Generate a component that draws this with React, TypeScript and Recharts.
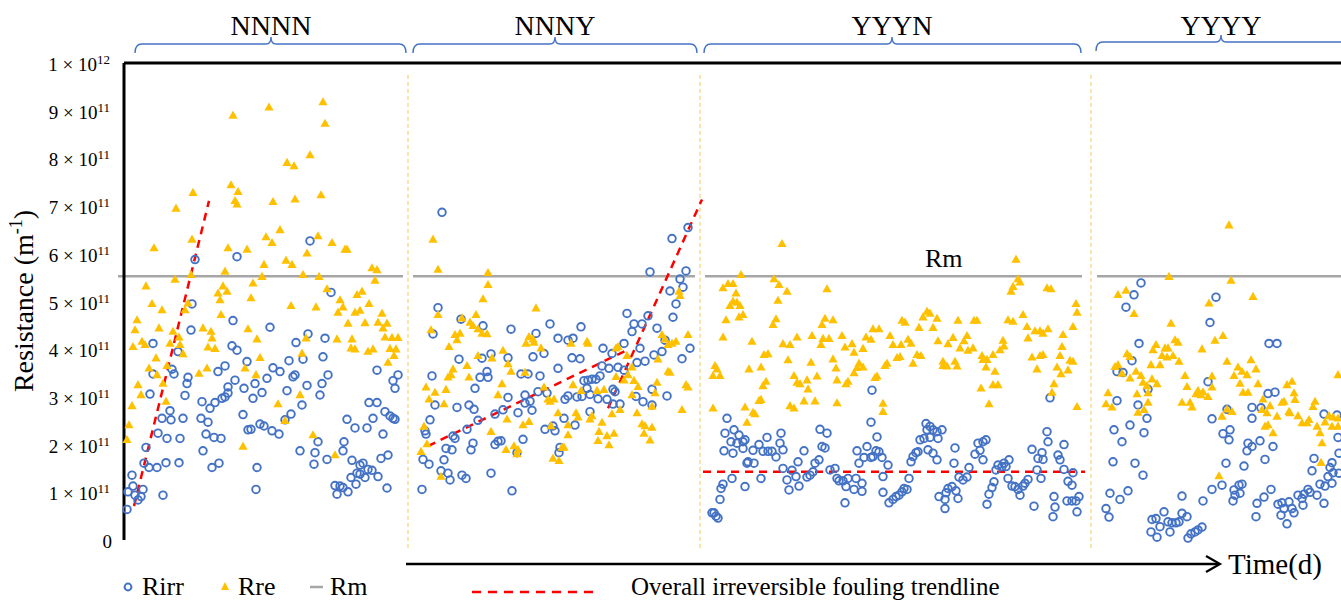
import { ReferenceLine, Scatter, ScatterChart, XAxis, YAxis } from 'recharts'

// time (d) and resistance in units of 1e11 m-1
const rirrNNNN = [[3,0.64],[8,1.36],[9,1.13],[4,1.01],[11,0.94],[14,0.84],[17,0.91],[19,1.06],[20,1.61],[22,1.94],[25,1.52],[33,1.52],[39,0.94],[42,1.62],[55,1.62],[56,2.13],[43,2.13],[34,2.24],[38,2.55],[47,2.52],[46,2.71],[59,2.55],[61,3.03],[26,3.06],[29,3.48],[50,3.48],[48,3.58],[54,3.95],[63,3.28],[64,3.41],[29,4.12],[67,4.4],[68,4.95],[71,5.88],[78,2.9],[77,2.55],[84,2.47],[86,2.76],[79,1.87],[82,2.22],[90,2.15],[97,2.13],[88,1.52],[95,1.61],[91,2.88],[94,3.53],[101,3.65],[98,2.97],[101,3.0],[104,3.08],[104,3.21],[111,3.35],[108,4.07],[113,3.98],[109,4.6],[113,5.94],[119,2.63],[120,3.18],[123,3.74],[129,2.97],[131,3.28],[138,3.09],[124,2.31],[127,2.32],[136,2.43],[140,2.39],[143,3.39],[149,3.61],[146,4.46],[133,1.52],[132,1.06],[148,2.29],[155,2.22],[156,3.53],[163,3.13],[165,3.76],[167,2.64],[169,3.42],[171,3.46],[172,4.14],[178,2.83],[179,3.79],[183,3.24],[184,4.32],[161,2.52],[176,1.87],[191,1.83],[190,1.59],[194,2.06],[196,3.04],[198,3.28],[199,3.84],[201,4.23],[204,3.46],[186,6.27],[203,1.69],[207,5.19],[211,1.14],[213,0.96],[216,1.13],[219,1.1],[220,2.06],[219,1.87],[224,1.01],[223,2.53],[228,1.67],[231,2.35],[232,1.17],[227,1.31],[233,1.4],[236,1.57],[236,1.38],[239,1.61],[241,1.31],[243,2.35],[244,1.48],[248,1.46],[249,2.55],[245,2.88],[253,2.88],[254,1.33],[257,1.71],[259,2.22],[261,2.69],[263,1.09],[264,1.78],[266,2.6],[269,2.55],[271,2.53],[253,3.56],[269,3.34],[271,3.18],[274,3.46]]
const rreNNNN = [[69,7.28],[52,6.95],[109,8.9],[145,9.07],[199,9.18],[201,8.73],[186,8.07],[163,7.91],[170,7.84],[107,7.44],[114,7.3],[111,7.11],[113,7.04],[149,7.09],[171,7.14],[197,7.23],[156,6.5],[68,6.3],[30,6.12],[104,6.12],[123,6.09],[142,6.35],[148,6.23],[194,6.37],[208,6.23],[221,6.09],[223,6.09],[183,6.01],[162,5.86],[168,5.77],[140,5.77],[101,5.63],[248,5.7],[253,5.66],[51,5.46],[67,5.56],[129,5.38],[138,5.52],[179,5.56],[195,5.52],[251,5.44],[22,5.32],[99,5.32],[103,5.21],[94,5.17],[96,5.03],[127,5.07],[203,5.26],[216,5.03],[233,5.14],[238,5.21],[28,4.95],[38,4.82],[64,4.96],[61,4.82],[97,4.72],[167,4.91],[192,4.88],[219,4.88],[214,4.77],[231,4.77],[236,4.81],[245,4.95],[258,4.75],[13,4.61],[11,4.4],[35,4.44],[49,4.37],[79,4.44],[87,4.37],[224,4.54],[241,4.55],[254,4.56],[263,4.54],[259,4.44],[124,4.42],[55,4.25],[88,4.23],[133,4.21],[9,4.05],[18,4.16],[21,4.09],[46,4.12],[56,4.09],[84,4.04],[91,4.01],[182,4.23],[213,4.21],[228,4.21],[227,4.02],[231,4.0],[244,3.95],[249,4.0],[261,4.25],[268,4.24],[274,4.24],[266,4.01],[272,4.0],[270,3.86],[264,3.72],[32,3.81],[59,3.9],[178,3.91],[136,3.82],[25,3.6],[43,3.65],[83,3.6],[75,3.49],[33,3.46],[39,3.28],[121,3.6],[132,3.46],[14,3.25],[17,3.04],[42,2.9],[8,2.81],[176,3.04],[154,2.85],[161,2.5],[5,2.41],[3,2.1],[189,2.2],[119,1.96],[211,1.78]]
const rirrNNNY = [[318,6.87],[314,4.87],[309,4.32],[337,4.63],[359,4.49],[387,4.42],[367,3.9],[335,3.79],[358,3.81],[412,4.33],[409,3.84],[420,3.91],[426,4.53],[434,4.23],[444,4.19],[449,4.23],[457,4.47],[448,3.82],[456,3.8],[479,4.02],[488,3.91],[500,4.12],[503,4.75],[510,4.53],[508,4.37],[518,4.53],[524,4.7],[516,4.02],[533,4.44],[530,3.88],[526,5.62],[548,6.32],[564,6.55],[562,5.64],[556,5.47],[559,5.3],[546,5.22],[552,4.95],[549,4.67],[541,4.19],[566,4.02],[558,3.8],[538,3.95],[384,3.82],[308,3.44],[363,3.53],[356,3.41],[364,3.41],[351,3.18],[311,2.83],[333,2.78],[345,2.83],[350,2.74],[306,2.52],[301,2.29],[354,2.51],[371,2.64],[379,2.73],[384,2.99],[394,2.67],[401,3.04],[401,2.87],[406,2.91],[408,2.72],[397,3.48],[404,3.48],[416,3.44],[414,3.11],[423,3.08],[434,3.6],[441,2.95],[444,3.02],[453,3.0],[458,3.01],[460,3.34],[464,3.35],[468,3.37],[472,3.37],[476,3.44],[463,3.18],[466,2.69],[466,3.05],[474,2.96],[483,2.95],[478,3.65],[485,3.6],[494,3.62],[500,3.56],[489,3.16],[491,3.11],[496,2.85],[489,2.85],[513,3.72],[521,3.75],[512,3.01],[519,2.9],[528,2.83],[528,3.16],[543,3.02],[302,2.22],[305,1.59],[299,1.69],[322,1.92],[328,1.89],[320,1.68],[317,1.45],[324,1.4],[326,1.26],[298,1.06],[338,1.36],[342,1.29],[329,2.18],[331,2.13],[343,2.32],[349,2.03],[347,1.89],[367,1.4],[371,2.0],[374,2.07],[377,2.08],[388,1.03],[393,1.83],[399,2.11],[421,2.32],[429,2.39],[431,2.29],[440,2.55],[451,2.41],[436,1.94],[435,1.83]]
const rreNNNY = [[309,6.3],[314,5.67],[364,5.6],[364,5.35],[359,5.05],[314,4.72],[412,4.86],[352,4.72],[338,4.65],[346,4.56],[349,4.49],[354,4.42],[358,4.33],[363,4.32],[307,4.4],[331,4.3],[333,4.19],[336,4.33],[325,4.05],[405,4.26],[409,4.21],[402,4.12],[410,4.14],[417,4.02],[447,4.12],[463,4.16],[464,4.12],[354,3.86],[368,3.81],[379,3.97],[494,4.05],[492,4.02],[503,3.86],[538,4.3],[541,4.21],[544,4.09],[548,4.12],[552,4.16],[555,5.21],[556,5.12],[564,4.3],[534,3.79],[329,3.58],[324,3.41],[327,3.46],[343,3.65],[345,3.41],[302,3.2],[311,3.09],[322,3.15],[305,2.95],[320,2.85],[300,2.38],[297,1.85],[303,2.01],[317,1.33],[367,2.27],[374,3.04],[378,3.27],[384,3.69],[387,3.53],[383,2.53],[382,1.89],[390,1.97],[394,1.89],[393,1.8],[399,2.41],[405,2.48],[401,3.51],[420,3.2],[424,2.95],[426,2.9],[430,2.95],[427,2.39],[434,2.66],[444,2.41],[444,2.2],[440,1.94],[438,1.94],[429,1.71],[435,1.66],[449,3.25],[457,3.13],[452,2.66],[454,2.57],[466,2.53],[468,2.6],[478,2.46],[473,3.13],[480,3.15],[474,2.08],[475,2.27],[483,2.18],[490,2.23],[485,1.99],[488,2.64],[496,2.73],[492,3.42],[500,3.35],[504,3.46],[508,3.62],[510,3.34],[514,3.21],[508,3.04],[513,2.66],[518,2.43],[521,2.39],[528,2.36],[520,2.23],[526,2.09],[533,3.3],[531,3.08],[528,2.8],[544,3.53],[546,3.51],[562,3.25],[564,3.2],[558,2.73]]
const rirrYYYN = [[748,3.14],[926,2.98],[603,2.55],[747,2.47],[601,2.24],[610,2.31],[615,2.2],[607,2.06],[613,2.03],[619,2.06],[621,2.1],[600,1.87],[609,1.82],[619,1.92],[624,1.64],[623,1.61],[629,1.88],[630,1.61],[635,2.0],[639,1.86],[643,2.15],[644,1.86],[648,1.86],[652,1.74],[657,2.24],[656,2.03],[659,1.89],[637,1.29],[608,1.29],[621,1.12],[597,1.08],[599,1.17],[596,0.85],[590,0.57],[592,0.5],[594,0.46],[588,0.57],[659,1.5],[663,1.26],[665,1.05],[668,1.46],[672,1.33],[675,1.13],[674,1.64],[680,1.87],[683,1.32],[686,1.36],[689,1.43],[691,1.61],[695,1.68],[698,1.96],[696,2.32],[703,2.24],[701,1.93],[706,1.47],[711,1.5],[713,1.29],[715,1.24],[719,1.24],[722,1.12],[721,0.78],[724,1.29],[730,1.06],[732,1.29],[738,1.19],[738,1.02],[735,1.61],[733,1.87],[740,1.73],[743,1.96],[747,1.73],[749,1.75],[752,1.87],[755,1.85],[758,1.73],[753,2.16],[759,1.33],[764,1.57],[759,1.0],[765,0.78],[769,0.85],[772,0.91],[775,0.94],[778,1.01],[780,1.08],[783,1.06],[785,1.29],[787,1.64],[789,1.75],[792,1.83],[794,1.85],[796,2.1],[800,2.13],[803,2.31],[802,2.44],[806,2.38],[809,2.31],[813,2.27],[818,2.31],[806,2.15],[814,2.13],[804,1.89],[809,1.82],[813,1.68],[815,0.91],[821,0.85],[822,0.99],[824,1.08],[828,1.12],[832,1.03],[834,0.87],[821,0.66],[831,1.93],[830,1.61],[835,1.32],[839,1.26],[843,1.32],[845,1.52],[851,1.8],[854,2.03],[856,1.88],[859,2.06],[862,2.1],[859,1.68],[863,0.75],[865,0.96],[868,1.1],[870,1.22],[872,1.47],[874,1.57],[878,1.54],[880,1.61],[882,1.54],[885,1.68],[884,1.29],[888,1.13],[891,1.12],[894,1.06],[896,0.94],[899,1.13],[901,1.19],[904,1.27],[910,0.71],[913,1.47],[908,1.9],[914,1.71],[918,1.83],[919,1.69],[917,1.29],[923,2.27],[924,2.06],[930,0.91],[931,0.69],[929,0.49],[936,1.68],[934,1.78],[940,2.0],[940,1.48],[944,1.23],[948,1.15],[943,0.82],[948,0.82],[952,0.82],[955,0.91],[953,0.59],[949,1.41]]
const rreYYYN = [[658,6.21],[892,5.88],[617,5.56],[650,5.47],[599,5.28],[604,5.37],[609,5.37],[612,5.17],[609,5.0],[613,4.98],[606,4.91],[616,4.91],[655,5.35],[663,5.21],[654,5.02],[703,5.26],[894,5.47],[889,5.31],[887,5.21],[896,5.4],[923,5.28],[927,5.26],[619,4.72],[615,4.67],[602,4.61],[599,4.25],[652,4.63],[649,4.51],[628,4.16],[659,4.11],[673,4.25],[688,4.28],[697,4.09],[699,4.22],[705,4.22],[709,4.61],[701,4.64],[698,4.51],[718,4.28],[721,4.04],[728,4.11],[730,3.93],[739,4.01],[742,4.25],[749,4.42],[755,4.42],[747,4.2],[766,4.28],[769,4.09],[777,4.09],[784,4.2],[787,4.12],[781,4.56],[778,4.6],[795,4.45],[799,4.67],[803,4.79],[806,4.75],[813,4.64],[809,4.45],[814,4.17],[824,4.11],[829,4.24],[834,4.6],[843,4.28],[840,4.17],[850,4.6],[853,4.6],[836,4.02],[844,3.97],[849,4.02],[858,3.86],[863,3.78],[869,3.88],[876,3.98],[880,4.06],[879,4.18],[884,4.61],[889,4.58],[899,4.72],[903,4.47],[904,4.23],[911,4.38],[916,4.38],[924,4.42],[919,4.33],[939,4.3],[949,4.47],[953,4.77],[952,4.95],[908,3.83],[916,3.86],[913,3.58],[919,3.88],[938,4.05],[936,3.86],[933,3.62],[937,3.48],[944,3.56],[946,3.76],[949,3.74],[930,3.27],[928,3.09],[953,2.79],[859,3.78],[862,3.62],[871,3.53],[869,3.25],[874,3.25],[865,2.85],[857,3.18],[819,3.65],[831,3.74],[833,3.64],[819,3.74],[823,3.64],[789,3.7],[793,3.88],[797,3.86],[773,3.82],[776,3.84],[763,3.7],[761,3.65],[751,3.4],[753,3.43],[759,2.86],[759,2.69],[735,3.7],[739,3.62],[733,3.61],[730,3.5],[724,3.32],[722,3.27],[712,3.6],[709,3.79],[713,3.35],[713,2.87],[693,3.43],[687,3.72],[683,3.35],[684,3.16],[676,3.27],[673,3.3],[670,3.44],[691,2.91],[680,2.91],[666,2.81],[670,2.76],[644,3.9],[640,3.88],[637,3.62],[625,3.58],[642,3.32],[639,3.23],[635,2.92],[637,2.94],[621,2.78],[629,2.67],[631,2.64],[623,2.46],[591,3.65],[593,3.58],[589,3.44],[596,3.44],[589,2.76],[666,4.09],[664,3.77]]
const rirrYYYY = [[1017,5.39],[1010,5.14],[1002,4.88],[1092,5.09],[1086,4.56],[1015,4.12],[1145,4.12],[1153,4.12],[1008,3.76],[993,3.53],[999,3.51],[1084,3.32],[1024,3.16],[1144,3.07],[1151,3.1],[993,2.92],[1014,2.83],[1023,2.55],[1088,2.54],[1103,2.74],[1128,2.78],[1137,2.77],[1128,2.55],[1006,2.41],[990,2.31],[1020,2.25],[998,2.06],[1099,2.23],[1106,2.31],[1105,2.1],[1124,2.03],[1123,1.87],[1128,1.96],[1136,2.08],[1149,1.96],[1141,1.69],[1120,1.55],[1102,1.61],[1200,2.64],[1213,2.62],[1214,2.15],[1215,1.82],[1208,1.62],[1209,1.41],[1204,1.33],[1208,1.19],[1201,1.13],[1196,1.17],[1190,1.71],[1188,1.45],[1206,1.52],[989,1.64],[1011,1.61],[1019,1.36],[986,0.98],[982,0.66],[985,0.48],[996,0.85],[1004,1.03],[1028,0.43],[1032,0.45],[1027,0.17],[1036,0.28],[1040,0.59],[1044,0.38],[1048,0.36],[1052,0.36],[1055,0.38],[1058,0.92],[1058,0.56],[1063,0.49],[1046,0.17],[1064,0.04],[1067,0.13],[1071,0.17],[1074,0.21],[1078,0.27],[1033,0.06],[1079,0.82],[1088,1.06],[1098,1.15],[1109,0.82],[1111,0.94],[1115,1.15],[1118,1.17],[1110,1.05],[1116,0.98],[1133,0.77],[1132,0.49],[1140,0.9],[1147,1.06],[1154,0.75],[1158,0.78],[1160,0.66],[1157,0.52],[1163,0.34],[1165,0.8],[1168,0.66],[1170,0.57],[1174,0.94],[1178,0.87],[1180,0.96],[1184,1.06],[1186,1.0],[1179,0.73],[1193,0.94],[1200,0.77],[1215,1.4]]
const rreYYYY = [[1105,6.6],[1107,5.44],[1045,5.52],[994,5.14],[1002,5.23],[1010,4.74],[1085,4.96],[1129,5.1],[1047,4.54],[1099,4.28],[1091,4.18],[1051,4.19],[1054,4.14],[1032,4.09],[1029,3.98],[1041,4.02],[1044,4.02],[1038,3.86],[1043,3.83],[1049,3.86],[1055,3.74],[1036,3.67],[1027,3.67],[1003,3.9],[1006,3.84],[994,3.67],[991,3.63],[998,3.49],[1012,3.53],[1006,3.39],[1017,3.44],[1019,3.3],[1023,3.23],[1024,3.08],[1033,3.27],[1028,3.37],[984,3.08],[982,2.85],[988,2.78],[1013,3.06],[1024,2.88],[1014,2.67],[1020,2.73],[1078,4.0],[1061,3.44],[1063,3.21],[1058,2.88],[1066,2.88],[1068,2.78],[1074,3.13],[1072,3.06],[1079,3.1],[1077,3.04],[1084,3.0],[1088,3.2],[1088,3.43],[1103,3.74],[1110,3.44],[1114,3.62],[1118,3.53],[1123,3.46],[1116,3.28],[1127,3.77],[1132,3.58],[1134,3.27],[1119,3.09],[1124,3.09],[1103,2.74],[1108,2.69],[1098,2.59],[1095,1.34],[1139,2.95],[1143,2.66],[1146,2.81],[1138,2.73],[1144,2.41],[1141,2.38],[1149,2.24],[1153,2.59],[1158,2.88],[1160,2.9],[1163,3.25],[1168,3.32],[1170,3.08],[1165,2.69],[1166,2.66],[1174,2.6],[1171,2.94],[1178,2.45],[1183,2.45],[1185,2.52],[1191,2.9],[1189,2.79],[1193,2.38],[1196,2.24],[1198,2.03],[1197,1.62],[1201,2.47],[1205,2.6],[1209,2.57],[1208,2.38],[1214,2.38],[1214,2.55],[1214,3.46]]

const rmValue = 5.53
const rmSpans = [[-6, 279], [289, 571], [581, 958], [973, 1240]]
const separators = [284, 576, 967]
const trendlines = [[[10, 0.71], [85, 7.11]], [[304, 1.97], [501, 3.96]], [[484, 2.76], [578, 7.14]], [[579, 1.43], [961, 1.43]]]
const phases = ['NNNN', 'NNNY', 'YYYN', 'YYYY']
const yTicks = [0, 1, 2, 3, 4, 5, 6, 7, 8, 9, 10]

const serif = '"Liberation Serif", "Times New Roman", serif'
const toPts = (arr: number[][]) => arr.map(([day, r]) => ({ day, r }))
const rirr = toPts([...rirrNNNN, ...rirrNNNY, ...rirrYYYN, ...rirrYYYY])
const rre = toPts([...rreNNNN, ...rreNNNY, ...rreYYYN, ...rreYYYY])

const Ring = (p: any) => <circle cx={p.cx} cy={p.cy} r={3.8} fill="none" stroke="#4472C4" strokeWidth={1.9} />
const Tri = (p: any) => <polygon points={`${p.cx},${p.cy - 4.9} ${p.cx - 4.6},${p.cy + 3.2} ${p.cx + 4.6},${p.cy + 3.2}`} fill="#FFC000" />

function YTick({ x, y, payload }: any) {
  const v = payload.value
  if (v === 0) return <text x={x + 2} y={y + 8} textAnchor="end" fontFamily={serif} fontSize={19}>0</text>
  return (
    <text x={x} y={y + 8} textAnchor="end" fontFamily={serif} fontSize={19}>
      {v === 10 ? 1 : v} × 10<tspan fontSize={13} dy={-7}>{v === 10 ? '12' : '11'}</tspan>
    </text>
  )
}

// curly bracket over each operating phase
function Brace({ x1, x2, xm, y }: { x1: number; x2: number; xm: number; y: number }) {
  const d = `M${x1},${y + 9} Q${x1},${y} ${x1 + 7},${y} L${xm - 5},${y} Q${xm},${y} ${xm},${y - 7} Q${xm},${y} ${xm + 5},${y} L${x2 - 7},${y} Q${x2},${y} ${x2},${y + 9}`
  return <path d={d} fill="none" stroke="#4472C4" strokeWidth={1.4} />
}

const braces = [
  { x1: 135, x2: 406, xm: 271, y: 44 },
  { x1: 413, x2: 697, xm: 555, y: 44 },
  { x1: 704, x2: 1081, xm: 892, y: 44 },
  { x1: 1096, x2: 1360, xm: 1221, y: 42 },
]

export default function App() {
  return (
    <div style={{ position: 'absolute', left: 0, top: 0, width: 1341, height: 602, overflow: 'hidden', background: '#fff' }}>
      <ScatterChart width={1400} height={602} margin={{ top: 63, right: 40, bottom: 62, left: 0 }}>
        <XAxis type="number" dataKey="day" domain={[0, 1236]} height={0} tick={false} tickLine={false} axisLine={{ stroke: '#000', strokeWidth: 3 }} />
        <YAxis type="number" dataKey="r" domain={[0, 10]} ticks={yTicks} width={124} tickLine={false} tickSize={6} tickMargin={8} tick={<YTick />} axisLine={{ stroke: '#000', strokeWidth: 3 }} />
        <ReferenceLine y={10} stroke="#000" strokeWidth={3} />
        {separators.map((d) => (
          <ReferenceLine key={d} segment={[{ x: d, y: 9.75 }, { x: d, y: -0.17 }]} ifOverflow="visible" stroke="#F7C75A" strokeWidth={1} strokeDasharray="4 3" />
        ))}
        <Scatter name="Rirr" data={rirr} shape={Ring} isAnimationActive={false} />
        <Scatter name="Rre" data={rre} shape={Tri} isAnimationActive={false} />
        {rmSpans.map(([a, b]) => (
          <ReferenceLine key={a} segment={[{ x: a, y: rmValue }, { x: b, y: rmValue }]} ifOverflow="visible" stroke="#A6A6A6" strokeWidth={2.5} />
        ))}
        {trendlines.map(([p, q], i) => (
          <ReferenceLine key={i} segment={[{ x: p[0], y: p[1] }, { x: q[0], y: q[1] }]} ifOverflow="visible" stroke="#FF0000" strokeWidth={2.5} strokeDasharray="8 6" />
        ))}
      </ScatterChart>
      <svg width={1341} height={602} style={{ position: 'absolute', left: 0, top: 0, pointerEvents: 'none' }} fontFamily={serif}>
        {braces.map((b, i) => (
          <g key={phases[i]}>
            <Brace {...b} />
            <text x={b.xm} y={35} textAnchor="middle" fontSize={28}>{phases[i]}</text>
          </g>
        ))}
        <text x={925} y={267} fontSize={26}>Rm</text>
        <text transform="translate(33,301) rotate(-90)" textAnchor="middle" fontSize={28}>
          Resistance (m<tspan fontSize={18} dy={-11}>-1</tspan><tspan dy={11}>)</tspan>
        </text>
        <line x1={406} y1={564} x2={1219} y2={564} stroke="#000" strokeWidth={2.5} />
        <polyline points="1206,556 1220,564 1206,572" fill="none" stroke="#000" strokeWidth={2.2} />
        <text x={1228} y={574} fontSize={29}>Time(d)</text>
        <circle cx={128} cy={587} r={3.4} fill="none" stroke="#4472C4" strokeWidth={2} />
        <text x={142} y={595} fontSize={26}>Rirr</text>
        <polygon points="225,582 221,590 229,590" fill="#FFC000" />
        <text x={238} y={595} fontSize={26}>Rre</text>
        <line x1={310} y1={587} x2={323} y2={587} stroke="#A6A6A6" strokeWidth={2.5} />
        <text x={330} y={595} fontSize={26}>Rm</text>
        <line x1={472} y1={592} x2={597} y2={592} stroke="#FF0000" strokeWidth={2.5} strokeDasharray="9 7" />
        <text x={631} y={595} fontSize={25}>Overall irreversible fouling trendline</text>
      </svg>
    </div>
  )
}
